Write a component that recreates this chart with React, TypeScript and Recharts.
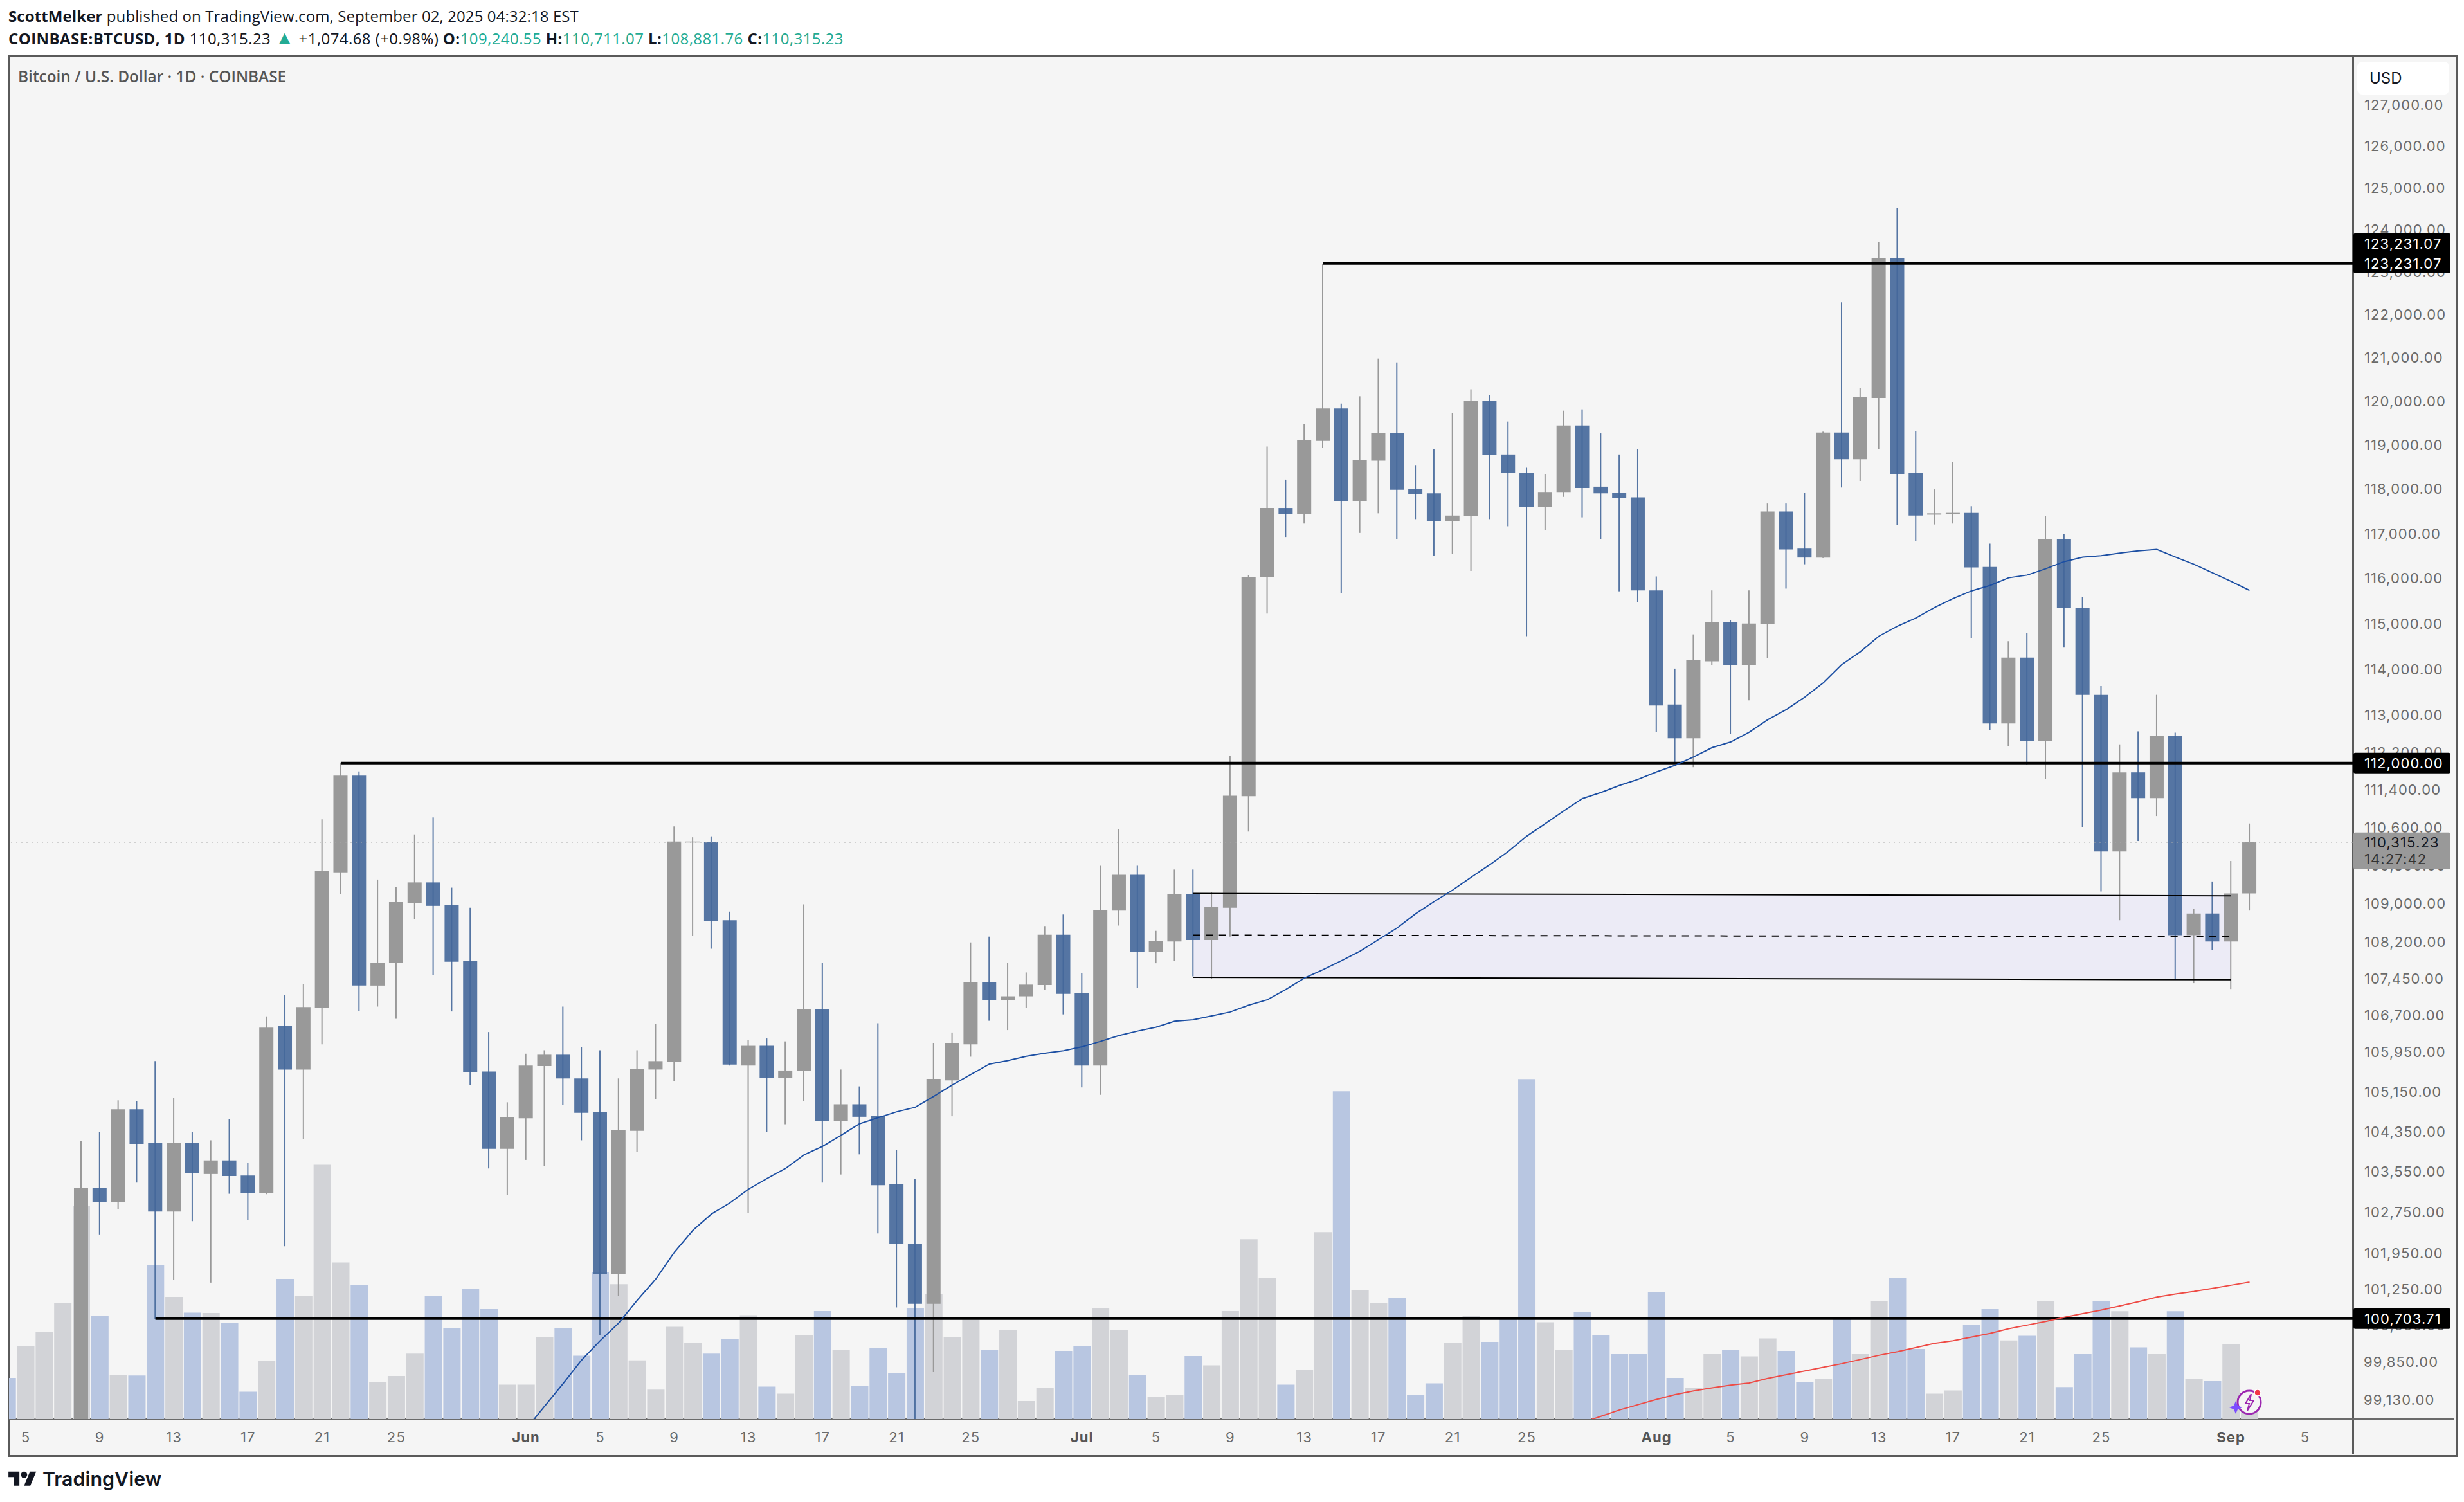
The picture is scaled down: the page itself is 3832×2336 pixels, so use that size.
import React from 'react';
import { Bar, Cell, ComposedChart, Line, ReferenceArea, ReferenceLine, XAxis, YAxis } from 'recharts';

// first entry is May 4 2025, last is Sep 2 2025. May 4-8 opens sit below the visible range, so those are estimates
const opens = [
  95900, 94300, 94700, 96800, 97000, 103260, 102980, 104820, 104140, 102790, 104140, 103530, 103800, 103500, 103160, 106500, 105620, 106880, 109680, 111730,
  107330, 107790, 109040, 109470, 108990, 107830, 105580, 104030, 104640, 105690, 105920, 105440, 104760, 101560, 104390, 105620, 105780, 110310, 110320, 108680,
  105700, 106100, 105450, 105590, 106850, 104580, 104920, 104680, 103330, 102160, 100990, 105400, 106130, 107400, 107030, 107110, 107340, 108380, 107180, 105700,
  108880, 109630, 108020, 108240, 109220, 108270, 108940, 111290, 116050, 117600, 117470, 119120, 119860, 117760, 118670, 119290, 118030, 117930, 117300, 117420,
  120040, 118810, 118400, 117620, 117960, 119470, 118080, 117940, 117840, 115760, 113260, 112530, 114200, 115060, 114110, 115020, 117520, 116690, 116490, 119310,
  118700, 120100, 123360, 118390, 117450, 117460, 117490, 116280, 112850, 114280, 112470, 116910, 115380, 113470, 110120, 111800, 111250, 112580, 108370, 108820,
  108240, 109240.55,
];
const closes = [
  94300, 94700, 96800, 97000, 103260, 102980, 104820, 104130, 102790, 104140, 103540, 103800, 103490, 103150, 106470, 105620, 106890, 109710, 111730, 107330,
  107800, 109060, 109470, 108980, 107820, 105560, 104030, 104660, 105700, 105920, 105440, 104750, 101570, 104400, 105630, 105790, 110330, 110330, 108660, 105720,
  106100, 105450, 105600, 106850, 104580, 104920, 104670, 103310, 102150, 100990, 105430, 106160, 107400, 107030, 107110, 107350, 108380, 107160, 105700, 108890,
  109630, 108020, 108250, 109220, 108270, 108960, 111300, 116050, 117600, 117470, 119130, 119860, 117760, 118680, 119290, 118010, 117910, 117300, 117430, 120040,
  118800, 118390, 117620, 117960, 119470, 118050, 117930, 117820, 115760, 113240, 112530, 114220, 115060, 114110, 115030, 117520, 116670, 116490, 119310, 118700,
  120120, 123360, 118370, 117430, 117480, 117490, 116270, 112850, 114280, 112470, 116910, 115370, 113470, 110120, 111800, 111250, 112580, 108370, 108820, 108240,
  109240, 110315.23,
];
const highs = [
  96300, 95100, 97000, 97600, 104180, 104360, 105000, 104990, 105790, 105050, 104370, 104200, 104620, 103750, 106700, 107140, 107360, 110800, 112000, 111820,
  109530, 109380, 110480, 110840, 109360, 108940, 106380, 104960, 105940, 106010, 106900, 106070, 106010, 105440, 106010, 106550, 110650, 110420, 110440, 108860,
  106220, 106250, 106190, 109010, 107800, 105620, 105280, 106560, 104010, 103430, 106160, 106370, 108220, 108340, 107800, 107600, 108560, 108800, 107590, 109820,
  110590, 109820, 108460, 109740, 109740, 109260, 112150, 116100, 118990, 118240, 119500, 123230, 119970, 120140, 121010, 120920, 118570, 118930, 119750, 120300,
  120170, 119560, 118510, 118370, 119810, 119840, 119290, 118810, 118930, 116070, 114040, 114790, 115760, 115110, 115760, 117700, 117700, 117940, 119330, 122320,
  120330, 123740, 124540, 119340, 118020, 118640, 117640, 116800, 114640, 114820, 117420, 117010, 115610, 113660, 112400, 112680, 113470, 112650, 108920, 109490,
  109920, 110711.07,
];
const lows = [
  94200, 93500, 93400, 95800, 96900, 102340, 102830, 103360, 100700, 101450, 102600, 101400, 103140, 102620, 103130, 102110, 104220, 106130, 109220, 106800,
  106900, 106650, 108710, 107540, 106800, 105310, 103640, 103110, 103810, 103690, 104910, 104200, 100390, 101140, 103970, 105020, 105380, 108360, 108090, 105700,
  102760, 104360, 104520, 104990, 103360, 103520, 103920, 102360, 100920, 98240, 99680, 104680, 105880, 106610, 106420, 106880, 107240, 106740, 105260, 105110,
  108570, 107280, 107790, 107840, 107520, 107460, 108340, 110540, 115250, 116950, 117250, 118960, 115700, 117040, 117480, 116900, 117350, 116530, 116570, 116190,
  117350, 117190, 114750, 117100, 117850, 117390, 116900, 115740, 115500, 112670, 112000, 111910, 114120, 112630, 113350, 114270, 115800, 116340, 116480, 118060,
  118210, 118930, 117220, 116860, 117230, 117250, 114700, 112700, 112360, 111970, 111660, 114500, 110640, 109280, 108680, 110340, 110870, 107460, 107380, 108060,
  107260, 108881.76,
];
const volumes = [
  3200, 5680, 6750, 9030, 16600, 8000, 3430, 3390, 11950, 9500, 8280, 8250, 7500, 2130, 4530, 10900, 9580, 19790, 12180, 10450,
  2900, 3350, 5090, 9580, 7100, 10100, 8550, 2680, 2680, 6390, 7100, 4930, 11400, 10490, 4570, 2290, 7180, 5950, 5090, 6250,
  8080, 2520, 1970, 6500, 8400, 5400, 2600, 5500, 3550, 8600, 9700, 6350, 7730, 5400, 6900, 1400, 2450, 5300, 5650, 8650,
  6950, 3450, 1750, 1900, 4900, 4180, 8400, 14000, 11000, 2680, 3800, 14550, 25500, 10000, 9030, 9450, 1880, 2780, 5930, 8050,
  6000, 7750, 26450, 7530, 5400, 8300, 6550, 5050, 5050, 9900, 3200, 2430, 5050, 5400, 4880, 6280, 5300, 2850, 3130, 7800,
  5050, 9190, 10950, 5450, 1980, 2230, 7340, 8550, 6120, 6480, 9190, 2490, 5050, 9190, 8390, 5580, 5050, 8390, 3100, 2950,
  5850, 650,
];

// blue average starts on Jun 1, red one on Jul 28
const fastMaFirstDay = 27;
const fastMa = [
  98600, 99030, 99460, 99910, 100280, 100620, 101060, 101470, 101990, 102420, 102740, 102960, 103230, 103440, 103640, 103910, 104080, 104300, 104530, 104650,
  104770, 104860, 105080, 105310, 105520, 105730, 105800, 105890, 105950, 106000, 106080, 106190, 106310, 106400, 106480, 106600, 106630, 106710, 106790, 106930,
  107040, 107250, 107485, 107656, 107842, 108040, 108280, 108520, 108815, 109068, 109310, 109580, 109840, 110120, 110445, 110710, 110980, 111240, 111370, 111520,
  111650, 111810, 111950, 112130, 112330, 112450, 112660, 112930, 113150, 113420, 113730, 114130, 114410, 114750, 114970, 115150, 115380, 115580, 115750, 115870,
  116040, 116100, 116240, 116400, 116500, 116530, 116590, 116640, 116670, 116500, 116340, 116150, 115960, 115760,
];
const slowMaFirstDay = 84;
const slowMa = [
  98720, 98840, 98960, 99060, 99160, 99250, 99320, 99380, 99430, 99470, 99560, 99630, 99700, 99770, 99840, 99920, 100000, 100070, 100150, 100230,
  100280, 100350, 100420, 100510, 100580, 100650, 100730, 100800, 100870, 100950, 101030, 101120, 101180, 101230, 101290, 101350, 101410,
];

// days counted from May 5
const dayTicks = [0, 4, 8, 12, 16, 20, 27, 31, 35, 39, 43, 47, 51, 57, 61, 65, 69, 73, 77, 81, 88, 92, 96, 100, 104, 108, 112, 119, 123];
const dayLabels = ['5', '9', '13', '17', '21', '25', 'Jun', '5', '9', '13', '17', '21', '25', 'Jul', '5', '9', '13', '17', '21', '25', 'Aug', '5', '9', '13', '17', '21', '25', 'Sep', '5'];
const monthLabels = ['Jun', 'Jul', 'Aug', 'Sep'];

const priceTicks = [
  127000, 126000, 125000, 124000, 123000, 122000, 121000, 120000, 119000, 118000, 117000, 116000, 115000, 114000, 113000, 112200, 111400, 110600, 109800, 109000,
  108200, 107450, 106700, 105950, 105150, 104350, 103550, 102750, 101950, 101250, 100550, 99850, 99130,
];

const lastPrice = 110315.23;
const topLevel = 123231.07;
const midLevel = 112000;
const lowLevel = 100703.71;

const rows = opens.map((open, i) => ({
  day: i - 1,
  wick: [lows[i], highs[i]],
  body: [Math.min(open, closes[i]), Math.max(open, closes[i])],
  volume: volumes[i],
  up: closes[i] >= open,
  fastMa: fastMa[i - 1 - fastMaFirstDay] ?? null,
  slowMa: slowMa[i - 1 - slowMaFirstDay] ?? null,
}));

const GRAY = '#999999';
const BLUE = '#44679A';
const font = 'Inter, sans-serif';
const spacing = 1.1;
const xDomain = [-0.9, 125.57];
const rightEdge = 125.57;

const money = (v: number) => v.toLocaleString('en-US', { minimumFractionDigits: 2, maximumFractionDigits: 2 });

const PriceTick = ({ x, y, payload }: any) => {
  const v = payload.value;
  if (v === topLevel || v === midLevel || v === lowLevel) {
    const double = v === topLevel;
    return (
      <g>
        <rect x={x - 17} y={double ? y - 47 : y - 16} width={151} height={double ? 62 : 32} rx={3} fill="#000" />
        {double && (
          <text x={x} y={y - 31} fill="#fff" fontSize={22} letterSpacing={spacing} fontFamily={font} dominantBaseline="central">
            {money(v)}
          </text>
        )}
        <text x={x} y={y} fill="#fff" fontSize={22} letterSpacing={spacing} fontFamily={font} dominantBaseline="central">
          {money(v)}
        </text>
      </g>
    );
  }
  if (v === lastPrice) {
    return (
      <g>
        <rect x={x - 17} y={y - 15} width={151} height={57} rx={3} fill={GRAY} />
        <text x={x} y={y} fill="#131722" fontSize={22} letterSpacing={spacing} fontFamily={font} dominantBaseline="central">
          {money(v)}
        </text>
        <text x={x} y={y + 26} fill="#333" fontSize={22} letterSpacing={spacing} fontFamily={font} dominantBaseline="central">
          14:27:42
        </text>
      </g>
    );
  }
  return (
    <text x={v < 100000 ? x - 1 : x} y={y - 2} fill="#6a6a6a" fontSize={22} letterSpacing={spacing} fontFamily={font} dominantBaseline="central">
      {money(v)}
    </text>
  );
};

const DayTick = ({ x, y, payload }: any) => {
  const label = dayLabels[dayTicks.indexOf(payload.value)];
  const month = monthLabels.includes(label);
  return (
    <text x={x} y={y - 2} fill={month ? '#555' : '#6a6a6a'} fontSize={22} letterSpacing={spacing} fontWeight={month ? 700 : 400} fontFamily={font} textAnchor="middle" dominantBaseline="central">
      {label}
    </text>
  );
};

const Teal = ({ children }: any) => <span style={{ color: '#22ab94' }}>{children}</span>;

const headerStyle: React.CSSProperties = {
  position: 'absolute',
  left: 13,
  fontFamily: '"Open Sans", sans-serif',
  fontSize: 24,
  color: '#131722',
  whiteSpace: 'nowrap',
  lineHeight: '30px',
};

export default function App() {
  return (
    <div style={{ position: 'absolute', left: 0, top: 0, width: 3832, height: 2336, background: '#fff', overflow: 'hidden' }}>
      <div style={{ ...headerStyle, top: 10, letterSpacing: 0.1 }}>
        <b>ScottMelker</b> published on TradingView.com, September 02, 2025 04:32:18 EST
      </div>
      <div style={{ ...headerStyle, top: 45, letterSpacing: 0.42 }}>
        <b>COINBASE:BTCUSD, 1D</b> 110,315.23 <Teal><span style={{ fontSize: 30, lineHeight: '24px' }}>▲</span></Teal> +1,074.68 (+0.98%) <b>O:</b><Teal>109,240.55</Teal> <b>H:</b><Teal>110,711.07</Teal> <b>L:</b><Teal>108,881.76</Teal> <b>C:</b><Teal>110,315.23</Teal>
      </div>

      <div style={{ position: 'absolute', left: 12, top: 86, width: 3804, height: 2174, border: '3px solid #5a5a5a', background: '#f5f5f5' }} />
      <div style={{ position: 'absolute', left: 3658, top: 88, width: 3, height: 2174, background: '#5a5a5a' }} />
      <div style={{ position: 'absolute', left: 14, top: 2206, width: 3803, height: 2, background: '#6a6a6a' }} />

      <div style={{ position: 'absolute', left: 3666, top: 96, width: 143, height: 51, borderRadius: 8, background: '#fff', zIndex: 2, fontFamily: font, fontSize: 24, lineHeight: '51px', paddingLeft: 19, boxSizing: 'border-box', color: '#131722' }}>
        USD
      </div>
      <div style={{ position: 'absolute', left: 28, top: 104, zIndex: 2, fontFamily: '"Open Sans", sans-serif', fontWeight: 600, fontSize: 24.4, lineHeight: '30px', color: '#555' }}>
        Bitcoin / U.S. Dollar · 1D · COINBASE
      </div>

      <div style={{ position: 'absolute', left: 0, top: 0 }}>
        <ComposedChart width={3832} height={2336} data={rows} margin={{ top: 88, right: 13, bottom: 73, left: 14 }}>
          <XAxis
            xAxisId="main"
            dataKey="day"
            type="number"
            domain={xDomain}
            allowDataOverflow
            ticks={dayTicks}
            interval={0}
            height={56}
            tickSize={0}
            tickMargin={0}
            axisLine={false}
            tick={DayTick}
          />
          <XAxis xAxisId="wicks" dataKey="day" type="number" domain={xDomain} allowDataOverflow hide />
          <XAxis xAxisId="bodies" dataKey="day" type="number" domain={xDomain} allowDataOverflow hide />
          <YAxis
            yAxisId="price"
            orientation="right"
            scale="log"
            domain={[98788, 128208]}
            allowDataOverflow
            ticks={[...priceTicks, lastPrice, midLevel, lowLevel, topLevel]}
            interval={0}
            width={160}
            tickSize={0}
            tickMargin={18}
            axisLine={false}
            tick={PriceTick}
          />
          <YAxis yAxisId="volume" domain={[0, 106000]} allowDataOverflow hide />

          <Bar xAxisId="main" yAxisId="volume" dataKey="volume" barSize={27} isAnimationActive={false}>
            {rows.map((r) => (
              <Cell key={r.day} fill={r.up ? '#d2d3d7' : '#b8c6e1'} />
            ))}
          </Bar>

          <ReferenceArea xAxisId="main" yAxisId="price" x1={63} x2={119} y1={107480} y2={109210} fill="#ecebf6" fillOpacity={1} stroke="none" />
          <ReferenceLine xAxisId="main" yAxisId="price" segment={[{ x: 63, y: 109240 }, { x: 119, y: 109190 }]} stroke="#000" strokeWidth={2} />
          <ReferenceLine xAxisId="main" yAxisId="price" segment={[{ x: 63, y: 108370 }, { x: 119, y: 108340 }]} stroke="#000" strokeWidth={2} strokeDasharray="11 9" />
          <ReferenceLine xAxisId="main" yAxisId="price" segment={[{ x: 63, y: 107500 }, { x: 119, y: 107450 }]} stroke="#000" strokeWidth={2} />
          <ReferenceLine xAxisId="main" yAxisId="price" segment={[{ x: 70, y: topLevel }, { x: rightEdge, y: topLevel }]} stroke="#000" strokeWidth={4} />
          <ReferenceLine xAxisId="main" yAxisId="price" segment={[{ x: 17, y: midLevel }, { x: rightEdge, y: midLevel }]} stroke="#000" strokeWidth={4} />
          <ReferenceLine xAxisId="main" yAxisId="price" segment={[{ x: 7, y: lowLevel }, { x: rightEdge, y: lowLevel }]} stroke="#000" strokeWidth={4} />

          <Line xAxisId="main" yAxisId="price" dataKey="fastMa" stroke="#1c4fa3" strokeWidth={2} dot={false} isAnimationActive={false} />
          <Line xAxisId="main" yAxisId="price" dataKey="slowMa" stroke="#ee4b45" strokeWidth={2} dot={false} isAnimationActive={false} />

          <Bar xAxisId="wicks" yAxisId="price" dataKey="wick" barSize={2} isAnimationActive={false}>
            {rows.map((r) => (
              <Cell key={r.day} fill={r.up ? GRAY : BLUE} fillOpacity={r.up ? 1 : 0.9} />
            ))}
          </Bar>
          <Bar xAxisId="bodies" yAxisId="price" dataKey="body" barSize={22} isAnimationActive={false}>
            {rows.map((r) => (
              <Cell key={r.day} fill={r.up ? GRAY : BLUE} fillOpacity={r.up ? 1 : 0.9} />
            ))}
          </Bar>

          <ReferenceLine xAxisId="main" yAxisId="price" y={lastPrice} stroke="#aaa" strokeWidth={1.5} strokeDasharray="2 6" />
        </ComposedChart>
      </div>

      {/* snapshot badge over the last volume bar */}
      <svg style={{ position: 'absolute', left: 3465, top: 2155, zIndex: 3 }} width={60} height={52} viewBox="0 0 60 52">
        <circle cx={33} cy={26} r={18} fill="#f5f5f5" stroke="#9c27b0" strokeWidth={3} />
        <path d="M36 13 L27 28 L33 28 L30 39 L40 23 L34 23 Z" fill="none" stroke="#9c27b0" strokeWidth={2} />
        <path d="M12 24 L15 31 L22 34 L15 37 L12 44 L9 37 L2 34 L9 31 Z" fill="#7c4dff" />
        <circle cx={46} cy={11} r={5} fill="#f23645" stroke="#fff" strokeWidth={1.5} />
      </svg>

      <svg style={{ position: 'absolute', left: 13, top: 2284 }} width={44} height={34} viewBox="0 0 36 28">
        <path d="M14 22H7V11H0V4h14v18zM28 22h-8l7.5-18h8L28 22z" fill="#131722" />
        <circle cx={20} cy={8} r={4} fill="#131722" />
      </svg>
      <div style={{ position: 'absolute', left: 66, top: 2280, fontFamily: font, fontWeight: 600, fontSize: 30.4, lineHeight: '40px', color: '#131722' }}>TradingView</div>
    </div>
  );
}
